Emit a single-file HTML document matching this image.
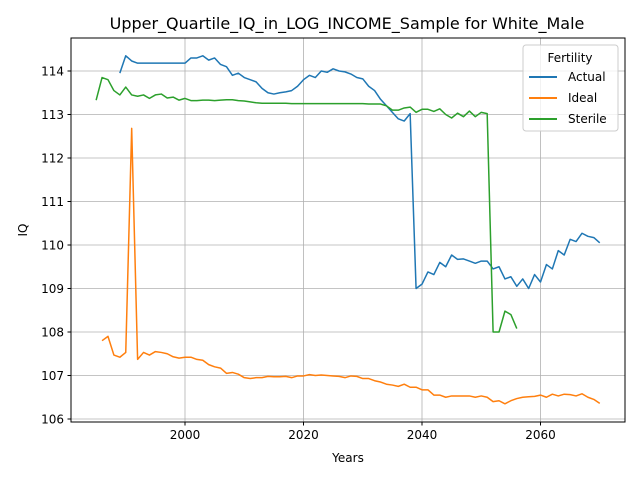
<!DOCTYPE html>
<html><head><meta charset="utf-8"><style>
body{margin:0;background:#fff;}
svg{display:block;font-family:"DejaVu Sans","Liberation Sans",sans-serif;}
</style></head><body>
<svg id="chart" width="640" height="480">
<rect width="640" height="480" fill="#fff"/>
<text x="347" y="29" font-size="16" text-anchor="middle">Upper_Quartile_IQ_in_LOG_INCOME_Sample for White_Male</text>
<g id="grid"></g>
<g id="series"></g>
<rect x="71" y="38" width="554" height="384" fill="none" stroke="#000" stroke-width="1"/>
<g id="ticks"></g>
<text x="348" y="462" font-size="12" text-anchor="middle">Years</text>
<text transform="translate(27,230) rotate(-90)" font-size="12" text-anchor="middle">IQ</text>
<g>
<rect x="523" y="45" width="95" height="86" rx="3" fill="#fff" fill-opacity="0.8" stroke="#ccc"/>
<text x="570" y="62" font-size="12" text-anchor="middle">Fertility</text>
<g><line x1="529" y1="77" x2="557" y2="77" stroke="#1f77b4" stroke-width="2"/><text x="568" y="81" font-size="12">Actual</text></g>
<g><line x1="529" y1="98" x2="557" y2="98" stroke="#ff7f0e" stroke-width="2"/><text x="568" y="102" font-size="12">Ideal</text></g>
<g><line x1="529" y1="119" x2="557" y2="119" stroke="#2ca02c" stroke-width="2"/><text x="568" y="123" font-size="12">Sterile</text></g>
</g>
</svg>
<script>
const xTicks=[2000,2020,2040,2060];
const yTicks=[106,107,108,109,110,111,112,113,114];
const actualStart=1989;
const actualValues=[113.95,114.35,114.23,114.18,114.18,114.18,114.18,114.18,114.18,114.18,114.18,114.18,114.3,114.3,114.35,114.25,114.3,114.15,114.1,113.9,113.95,113.85,113.8,113.75,113.6,113.5,113.47,113.5,113.52,113.55,113.65,113.8,113.9,113.85,114.0,113.97,114.05,114.0,113.98,113.93,113.85,113.82,113.65,113.55,113.35,113.2,113.05,112.9,112.85,113.02,109.0,109.1,109.38,109.32,109.6,109.5,109.77,109.67,109.68,109.63,109.58,109.63,109.63,109.45,109.5,109.22,109.27,109.05,109.22,109.0,109.32,109.15,109.55,109.45,109.87,109.77,110.13,110.08,110.27,110.2,110.17,110.05];
const idealStart=1986;
const idealValues=[107.8,107.9,107.47,107.42,107.53,112.68,107.37,107.53,107.47,107.55,107.53,107.5,107.43,107.4,107.42,107.42,107.37,107.35,107.25,107.2,107.17,107.05,107.07,107.03,106.95,106.93,106.95,106.95,106.98,106.97,106.97,106.98,106.95,106.99,106.99,107.02,107.0,107.01,107.0,106.99,106.98,106.95,106.99,106.98,106.93,106.93,106.88,106.85,106.8,106.78,106.75,106.8,106.73,106.73,106.67,106.67,106.55,106.55,106.5,106.53,106.53,106.53,106.53,106.5,106.53,106.5,106.4,106.42,106.35,106.42,106.47,106.5,106.51,106.52,106.55,106.5,106.57,106.53,106.57,106.56,106.53,106.58,106.5,106.45,106.36];
const sterileStart=1985;
const sterileValues=[113.33,113.85,113.8,113.55,113.45,113.63,113.45,113.42,113.45,113.37,113.45,113.47,113.38,113.4,113.33,113.37,113.32,113.32,113.33,113.33,113.32,113.33,113.34,113.34,113.32,113.31,113.29,113.27,113.26,113.26,113.26,113.26,113.26,113.25,113.25,113.25,113.25,113.25,113.25,113.25,113.25,113.25,113.25,113.25,113.25,113.25,113.24,113.24,113.24,113.2,113.1,113.1,113.15,113.17,113.05,113.12,113.12,113.07,113.13,113.0,112.92,113.03,112.95,113.08,112.95,113.05,113.02,108.0,108.0,108.48,108.4,108.08];
const NS="http://www.w3.org/2000/svg";
function xs(yr){return 185+(yr-2000)*5.925;}
function ys(v){return 71+(114-v)*43.5;}
const grid=document.getElementById('grid'),ticks=document.getElementById('ticks'),ser=document.getElementById('series');
function mk(tag,attrs,parent){const e=document.createElementNS(NS,tag);for(const k in attrs)e.setAttribute(k,attrs[k]);parent.appendChild(e);return e;}
xTicks.forEach(t=>{const x=xs(t);
 const g=mk('line',{x1:x,x2:x,y1:38,y2:422,stroke:'#b0b0b0','stroke-width':0.8},grid);
 
 
 mk('line',{x1:x,x2:x,y1:422,y2:425.5,stroke:'#000'},ticks);
 const tx=mk('text',{x:x,y:439,'font-size':12,'text-anchor':'middle'},ticks);tx.textContent=t;
 
 
});
yTicks.forEach(t=>{const y=ys(t);
 const g=mk('line',{x1:71,x2:625,y1:y,y2:y,stroke:'#b0b0b0','stroke-width':0.8},grid);
 
 
 mk('line',{x1:67.5,x2:71,y1:y,y2:y,stroke:'#000'},ticks);
 const tx=mk('text',{x:64,y:y+4.5,'font-size':12,'text-anchor':'end'},ticks);tx.textContent=t;
 
 
});
function line(start,vals,color,name){
 const pts=vals.map((v,i)=>xs(start+i).toFixed(2)+','+ys(v).toFixed(2)).join(' ');
 const p=mk('polyline',{points:pts,fill:'none',stroke:color,'stroke-width':1.5,'stroke-linejoin':'round'},ser);
 
 
}
line(actualStart,actualValues,'#1f77b4','actual-line');
line(idealStart,idealValues,'#ff7f0e','ideal-line');
line(sterileStart,sterileValues,'#2ca02c','sterile-line');
</script>
</body></html>
